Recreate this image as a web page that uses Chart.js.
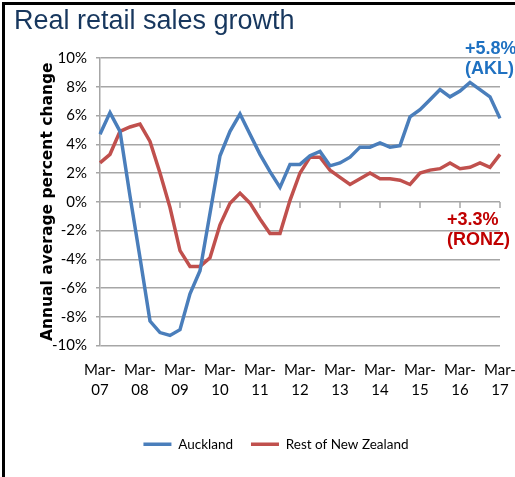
<!DOCTYPE html>
<html>
<head>
<meta charset="utf-8">
<title>Real retail sales growth</title>
<script src="https://cdn.jsdelivr.net/npm/chart.js@4.4.1/dist/chart.umd.min.js"></script>
<style>
  html, body { margin: 0; padding: 0; background: #fff; }
  #wrap { position: relative; width: 515px; height: 477px; overflow: hidden; }
  #chartBox { position: absolute; left: 0; top: 0; width: 515px; height: 477px; }
  #frame { position: absolute; left: 2px; top: 2px; right: -10px; bottom: -10px;
           border-left: 3px solid #000; border-top: 3px solid #000; pointer-events: none; }
  #title { position: absolute; left: 14px; top: 7px; font: 27px/27px "Liberation Sans", Arial, sans-serif;
           color: #17375e; white-space: nowrap; }
  .note { position: absolute; font: bold 18px/20px "Liberation Sans", Arial, sans-serif; white-space: nowrap; }
  #akl { left: 465px; top: 38px; color: #1f71c1; }
  #ronz { left: 447px; top: 209px; color: #c00000; }
</style>
</head>
<body>
<div id="wrap">
  <div id="chartBox"><canvas id="salesChart"></canvas></div>
  <div id="title">Real retail sales growth</div>
  <div id="akl" class="note">+5.8%<br>(AKL)</div>
  <div id="ronz" class="note">+3.3%<br>(RONZ)</div>
  <div id="frame"></div>
</div>
<script>
// Quarterly categories (annual average % change)
const categories = [
  'Mar-07', 'Jun-07', 'Sep-07', 'Dec-07', 'Mar-08', 'Jun-08', 'Sep-08', 'Dec-08',
  'Mar-09', 'Jun-09', 'Sep-09', 'Dec-09', 'Mar-10', 'Jun-10', 'Sep-10', 'Dec-10',
  'Mar-11', 'Jun-11', 'Sep-11', 'Dec-11', 'Mar-12', 'Jun-12', 'Sep-12', 'Dec-12',
  'Mar-13', 'Jun-13', 'Sep-13', 'Dec-13', 'Mar-14', 'Jun-14', 'Sep-14', 'Dec-14',
  'Mar-15', 'Jun-15', 'Sep-15', 'Dec-15', 'Mar-16', 'Jun-16', 'Sep-16', 'Dec-16',
  'Mar-17'
];

const auckland = [
  4.7, 6.2, 4.9, 0.4, -3.9, -8.3, -9.1, -9.3,
  -8.9, -6.4, -4.8, -0.8, 3.2, 4.9, 6.1, 4.7,
  3.3, 2.1, 1.0, 2.6, 2.6, 3.2, 3.5, 2.5,
  2.7, 3.1, 3.8, 3.8, 4.1, 3.8, 3.9, 5.9,
  6.4, 7.1, 7.8, 7.3, 7.7, 8.3, 7.8, 7.3,
  5.8
];

const restOfNZ = [
  2.7, 3.3, 4.9, 5.2, 5.4, 4.2, 2.0, -0.4,
  -3.4, -4.5, -4.5, -3.9, -1.6, -0.1, 0.6, -0.1,
  -1.2, -2.2, -2.2, 0.1, 2.0, 3.1, 3.1, 2.2,
  1.7, 1.2, 1.6, 2.0, 1.6, 1.6, 1.5, 1.2,
  2.0, 2.2, 2.3, 2.7, 2.3, 2.4, 2.7, 2.4,
  3.3
];

// y ticks: -10% .. 10%
const yMin = -10;
const yMax = 10;
const yStep = 2;

const gridColor = '#a6a6a6';
const narrowFont = '"Liberation Sans Narrow", "Arial Narrow", Lato, sans-serif';

// small tick marks hanging below the 0% line (Excel style)
const zeroTicks = {
  id: 'zeroTicks',
  beforeDatasetsDraw(chart) {
    const { ctx, scales: { x, y } } = chart;
    const y0 = Math.round(y.getPixelForValue(0));
    ctx.save();
    ctx.strokeStyle = gridColor;
    ctx.lineWidth = 1.5;
    categories.forEach((c, i) => {
      if (!c.startsWith('Mar') || i === 0) return;
      const px = Math.round(x.getPixelForValue(i));
      ctx.beginPath();
      ctx.moveTo(px, y0);
      ctx.lineTo(px, y0 + 6);
      ctx.stroke();
    });
    ctx.restore();
  }
};

const ctx = document.getElementById('salesChart').getContext('2d');

new Chart(ctx, {
  type: 'line',
  data: {
    labels: categories,
    datasets: [
      {
        label: 'Auckland',
        data: auckland,
        borderColor: '#4a7ebb',
        backgroundColor: '#4a7ebb',
        borderWidth: 3.5,
        pointRadius: 0,
        tension: 0
      },
      {
        label: 'Rest of New Zealand',
        data: restOfNZ,
        borderColor: '#c0504d',
        backgroundColor: '#c0504d',
        borderWidth: 3.5,
        pointRadius: 0,
        tension: 0
      }
    ]
  },
  options: {
    responsive: true,
    maintainAspectRatio: false,
    animation: false,
    layout: { padding: { left: 40, right: 3, top: 58, bottom: 16 } },
    plugins: {
      legend: {
        position: 'bottom',
        labels: {
          usePointStyle: true,
          pointStyle: 'line',
          pointStyleWidth: 28,
          padding: 18,
          color: '#000',
          font: { family: narrowFont, size: 13.5 }
        }
      },
      tooltip: { enabled: false }
    },
    scales: {
      x: {
        afterFit(s) {
          s.height = 74;
          s.paddingRight = 15;
        },
        grid: { display: false, drawTicks: false },
        border: { display: false },
        ticks: {
          autoSkip: false,
          maxRotation: 0,
          padding: 15,
          color: '#000',
          font: { family: narrowFont, size: 15, lineHeight: 1.33 },
          callback(value, index) {
            const c = categories[index];
            return c.startsWith('Mar') ? [c.slice(0, 4), c.slice(4)] : '';
          }
        }
      },
      y: {
        min: yMin,
        max: yMax,
        afterFit(s) { s.width = 60; },
        ticks: {
          stepSize: yStep,
          padding: 9,
          color: '#000',
          font: { family: narrowFont, size: 15 },
          callback: v => v + '%'
        },
        grid: { color: gridColor, lineWidth: 1.5, tickLength: 4 },
        border: { color: gridColor, width: 1.5 },
        title: {
          display: true,
          text: 'Annual average percent change',
          color: '#000',
          padding: 0,
          font: { family: 'DejaVu Sans', weight: 'bold', size: 15.5, lineHeight: 1 }
        }
      }
    }
  },
  plugins: [zeroTicks]
});
</script>
</body>
</html>
